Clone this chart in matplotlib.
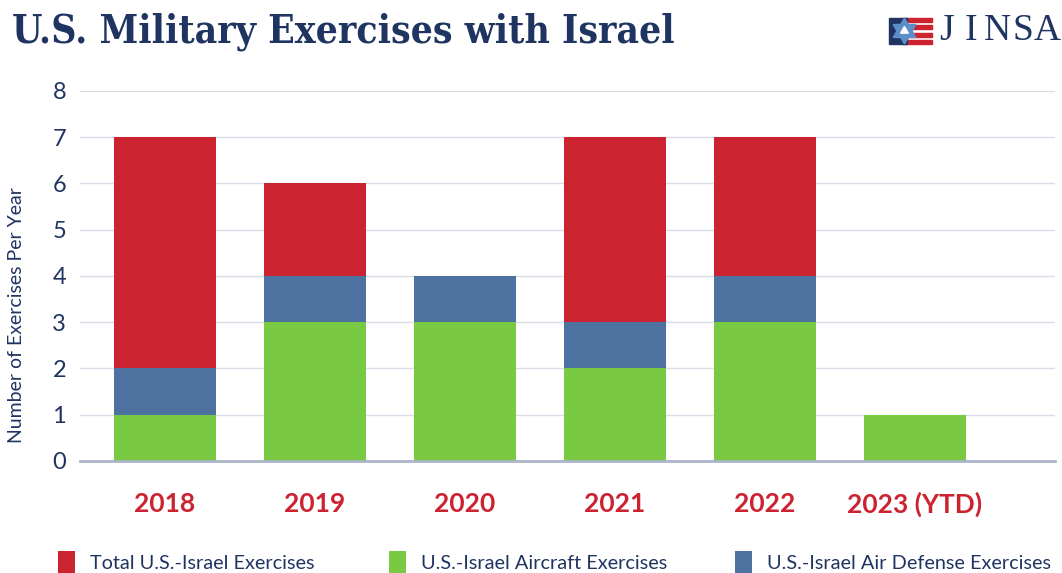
import matplotlib.pyplot as plt
from matplotlib.patches import Rectangle, Polygon

# data
years = ["2018", "2019", "2020", "2021", "2022", "2023 (YTD)"]
total = [7, 6, 4, 7, 7, 1]
aircraft = [1, 3, 3, 2, 3, 1]
air_defense = [1, 1, 1, 1, 1, 0]

RED = "#CC2331"
GREEN = "#7AC943"
BLUE = "#4E72A0"
NAVY = "#1F3461"

plt.rcParams['font.family'] = ['Lato', 'DejaVu Sans']

fig = plt.figure(figsize=(10.62, 5.73), dpi=100)
ax = fig.add_axes([0.0753, 0.1955, 0.918, 0.6457])

x = range(len(years))
w = 0.68
# total bar sits behind, the two components stack on top of it
b1 = ax.bar(x, total, w, color=RED, label="Total U.S.-Israel Exercises", zorder=2)
b2 = ax.bar(x, aircraft, w, color=GREEN, label="U.S.-Israel Aircraft Exercises", zorder=3)
b3 = ax.bar(x, air_defense, w, bottom=aircraft, color=BLUE,
            label="U.S.-Israel Air Defense Exercises", zorder=3)

ax.set_xlim(-0.567, 5.933)
ax.set_ylim(0, 8)
ax.set_yticks(range(0, 9))
ax.yaxis.grid(True, color="#D8DEE8", linewidth=1, zorder=0)
ax.set_axisbelow(True)
for s in ["top", "right", "left"]:
    ax.spines[s].set_visible(False)
ax.spines["bottom"].set_color("#A9B6C8")
ax.spines["bottom"].set_linewidth(2)
ax.spines["bottom"].set_zorder(4)

ax.tick_params(axis="y", length=0, labelsize=17, labelcolor=NAVY, pad=10)
ax.tick_params(axis="x", length=0, pad=22)
ax.set_xticks(list(x))
ax.set_xticklabels(years, fontsize=19, fontweight="bold", color=RED)
ax.set_ylabel("Number of Exercises Per Year", fontsize=14, color=NAVY)
ax.yaxis.set_label_coords(-0.056, 0.395)

# one legend per entry so each sits where the reference puts it
for bar, xp in zip([b1, b2, b3], [58, 389, 735]):
    leg = fig.legend(handles=[bar], loc="lower left", bbox_to_anchor=(xp / 1062, 0.0),
                     frameon=False, fontsize=14.3, handlelength=0.85, handleheight=1.3,
                     handletextpad=0.75, borderpad=0.0, borderaxespad=0.0)
    for t in leg.get_texts():
        t.set_color(NAVY)

fig.text(0.011, 0.945, "U.S. Military Exercises with Israel", fontsize=28,
         fontweight="bold", color=NAVY, family="DejaVu Serif",
         fontstretch="condensed", va="center")

# JINSA logo
for ch, cxp in zip("JINSA", [947, 971, 997, 1023, 1047]):
    fig.text(cxp / 1062, 0.946, ch, fontsize=27, color=NAVY,
             family="Liberation Serif", va="center", ha="center")
ix, iy, iw, ih = 889 / 1062, 1 - 44 / 573, 43 / 1062, 26 / 573
for k in range(4):
    fig.patches.append(Rectangle((ix + iw * 0.3, iy + ih * k / 3.5), iw * 0.7, ih / 7,
                                 transform=fig.transFigure, color=RED))
fig.patches.append(Rectangle((ix, iy), iw * 0.42, ih, transform=fig.transFigure, color=NAVY))
cx, cy, r = ix + iw * 0.36, iy + ih * 0.5, ih * 0.5
sx = 573 / 1062
up = [(cx, cy + r), (cx - r * 0.87 * sx, cy - r * 0.5), (cx + r * 0.87 * sx, cy - r * 0.5)]
dn = [(cx, cy - r), (cx - r * 0.87 * sx, cy + r * 0.5), (cx + r * 0.87 * sx, cy + r * 0.5)]
fig.patches.append(Polygon(up, closed=True, transform=fig.transFigure, color="#5B8FC9"))
fig.patches.append(Polygon(dn, closed=True, transform=fig.transFigure, color="#5B8FC9"))
fig.patches.append(Polygon([(cx, cy + r * 0.35), (cx - r * 0.3 * sx, cy - r * 0.17),
                            (cx + r * 0.3 * sx, cy - r * 0.17)],
                           closed=True, transform=fig.transFigure, color="white"))

fig.savefig("out.png", dpi=100)
